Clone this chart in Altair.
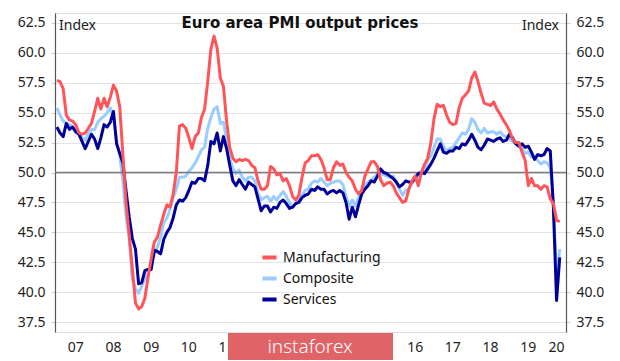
import altair as alt
import pandas as pd

# Monthly data, Jan 2007 .. May 2020
start_year = 2007
manufacturing = [
    57.7, 57.6, 57.0, 54.8, 54.4, 54.3, 54.0, 53.3, 53.2, 53.3, 53.7, 54.1,
    55.1, 56.2, 55.3, 56.2, 55.5, 56.3, 57.3, 56.8, 55.5, 51.5, 47.5, 44.8,
    42.0, 39.1, 38.6, 38.8, 39.5, 41.2, 42.8, 44.2, 44.6, 45.6, 46.5, 47.3,
    47.1, 48.2, 50.0, 53.9, 54.0, 53.7, 52.9, 52.0, 53.0, 53.3, 54.6, 55.3,
    57.6, 60.3, 61.4, 60.4, 57.9, 57.2, 54.3, 52.1, 51.2, 50.9, 51.1, 51.0,
    51.1, 51.0, 50.6, 50.4, 49.3, 48.6, 48.6, 48.9, 50.5, 50.3, 49.8, 49.9,
    49.3, 49.5, 48.9, 48.0, 47.7, 48.1, 49.6, 50.8, 51.0, 51.4, 51.4, 51.5,
    51.1, 50.4, 49.4, 49.4, 50.4, 50.9, 50.6, 50.7, 50.0, 49.6, 49.3, 48.6,
    48.2, 48.5, 49.7, 50.3, 50.9, 50.9, 50.5, 49.4, 48.9, 49.1, 49.2, 48.9,
    48.3, 47.9, 47.5, 47.6, 48.6, 49.3, 49.7, 48.9, 50.0, 50.7, 51.2, 52.5,
    54.5, 55.7, 55.5, 55.6, 54.8, 54.2, 54.0, 54.1, 55.4, 56.2, 56.5, 56.8,
    57.9, 58.4, 57.6, 56.6, 55.8, 55.7, 55.6, 55.9, 55.3, 54.9, 54.4, 54.0,
    53.5, 52.8, 52.5, 52.5, 51.7, 51.0, 48.9, 49.5, 48.9, 48.9, 48.6, 48.9,
    48.8, 47.8, 47.4, 46.0, 45.9,
]
composite = [
    55.4, 54.8, 54.3, 54.1, 54.0, 53.8, 53.5, 53.3, 52.9, 52.7, 53.3, 53.6,
    53.6, 54.2, 54.5, 54.7, 55.0, 55.4, 54.6, 52.6, 51.4, 49.3, 46.3, 44.5,
    41.1, 40.3, 39.9, 40.5, 41.1, 41.6, 42.1, 43.2, 43.8, 44.6, 45.8, 46.2,
    46.9, 47.9, 48.6, 49.6, 49.6, 49.7, 50.1, 50.4, 50.8, 51.3, 51.9, 52.1,
    53.7, 54.6, 55.3, 55.5, 54.1, 54.2, 52.8, 51.2, 50.3, 49.9, 50.2, 49.6,
    49.3, 49.6, 49.6, 49.3, 48.3, 47.7, 47.9, 48.0, 47.6, 48.0, 47.7, 48.1,
    48.4, 48.0, 47.5, 47.1, 47.4, 47.7, 48.1, 48.5, 48.6, 49.1, 49.3, 49.2,
    49.5, 49.2, 48.9, 49.1, 49.2, 49.3, 49.3, 49.0, 48.0, 47.2, 47.7, 47.2,
    47.9, 48.5, 48.9, 49.2, 49.4, 49.6, 49.9, 49.9, 49.8, 49.7, 49.6, 49.7,
    49.2, 48.6, 48.1, 48.5, 48.6, 49.1, 49.4, 49.7, 49.9, 50.3, 51.0, 51.4,
    52.1, 52.8, 52.8, 52.2, 51.8, 52.0, 52.1, 52.5, 52.9, 53.3, 53.2, 53.6,
    54.5, 54.2, 53.6, 53.3, 53.7, 53.3, 53.4, 53.4, 53.2, 53.4, 53.1, 53.0,
    52.8, 52.6, 52.4, 52.2, 52.0, 51.6, 51.7, 51.3, 51.3, 51.0, 50.7, 50.9,
    50.8, 50.4, 47.5, 41.0, 43.6,
]
services = [
    53.8, 53.3, 53.0, 54.1, 53.6, 53.8, 53.4, 53.2, 52.6, 52.0, 52.6, 53.2,
    52.8, 52.0, 52.9, 54.0, 53.8, 54.2, 55.1, 52.4, 51.6, 50.8, 48.5, 46.3,
    44.5, 43.6, 40.7, 40.8, 41.8, 41.9, 41.9, 43.5, 43.4, 43.2, 44.4, 45.0,
    45.4, 46.2, 47.3, 47.7, 47.6, 47.9, 48.5, 49.2, 49.1, 49.5, 49.5, 49.3,
    50.6, 52.6, 52.4, 53.3, 51.8, 53.0, 52.0, 50.6, 49.3, 48.9, 49.4, 49.0,
    48.6, 49.2, 49.0, 48.8, 47.8, 46.8, 47.2, 47.2, 46.7, 47.1, 47.0, 47.5,
    47.7, 47.4, 47.0, 47.1, 47.4, 47.5, 47.9, 48.1, 48.2, 48.6, 48.5, 48.8,
    48.6, 48.6, 48.2, 48.4, 48.5, 48.3, 48.5, 48.3, 47.5, 46.1, 47.1, 46.3,
    47.3, 48.2, 48.6, 48.9, 49.3, 49.2, 49.7, 50.3, 50.0, 49.9, 49.7, 49.5,
    49.2, 48.8, 49.0, 49.3, 49.2, 49.2, 49.6, 49.9, 50.0, 49.9, 50.3, 50.7,
    51.2, 51.8, 52.4, 51.7, 51.6, 51.8, 51.8, 52.1, 52.0, 52.4, 52.3, 52.7,
    53.2, 52.7, 52.1, 51.9, 52.3, 52.8, 52.7, 52.6, 52.8, 52.9, 52.6, 52.7,
    53.2, 52.9, 52.4, 52.2, 52.4, 52.1, 52.2, 51.7, 51.1, 51.5, 51.4, 51.5,
    52.0, 51.8, 47.0, 39.3, 42.9,
]

series_names = ["Manufacturing", "Composite", "Services"]
series_colors = ["#FF5558", "#99CCFF", "#000099"]
y_ticks = [37.5, 40.0, 42.5, 45.0, 47.5, 50.0, 52.5, 55.0, 57.5, 60.0, 62.5]
year_ticks = list(range(2007, 2021))
year_labels = ["07", "08", "09", "10", "11", "12", "13", "14", "15", "16",
               "17", "18", "19", "20"]
title_text = "Euro area PMI output prices"
axis_caption = "Index"
watermark = "instaforex"

X_MIN, X_MAX = 2006.95, 2020.5
Y_MIN, Y_MAX = 36.67, 63.33
W, H = 511, 319
FONT = "Noto Sans"

rows = []
for name, vals in zip(series_names, [manufacturing, composite, services]):
    for i, v in enumerate(vals):
        rows.append({"t": start_year + i / 12.0, "v": v, "series": name})
df = pd.DataFrame(rows)

xscale = alt.Scale(domain=[X_MIN, X_MAX], nice=False, zero=False)
yscale = alt.Scale(domain=[Y_MIN, Y_MAX], nice=False, zero=False)
cscale = alt.Scale(domain=series_names, range=series_colors)

x_axis = alt.Axis(values=year_ticks, labels=False, tickSize=6, grid=False,
                  domainColor="#555555", tickColor="#555555", domainWidth=1.2,
                  title=None)
left_axis = alt.Axis(orient="left", values=y_ticks, format=".1f", grid=True,
                     gridColor="#e4e4e4", gridWidth=1, tickSize=4,
                     tickColor="#cccccc", labelPadding=6, domainColor="#555555",
                     domainWidth=1.2, labelFont=FONT, labelFontSize=14,
                     labelColor="#222222", title=None)
right_axis = alt.Axis(orient="right", values=y_ticks, format=".1f", grid=False,
                      tickSize=4, tickColor="#cccccc", labelPadding=6,
                      domainColor="#555555", domainWidth=1.2, labelFont=FONT,
                      labelFontSize=14, labelColor="#222222", title=None)

legend = alt.Legend(orient="none", legendX=205, legendY=235, title=None,
                    symbolType="stroke", symbolSize=200, symbolStrokeWidth=4,
                    labelFont=FONT, labelFontSize=14, labelColor="#111111",
                    rowPadding=3, labelOffset=4, padding=0)

# 50 line with right axis
ref_line = alt.Chart(pd.DataFrame({"v": [50.0]})).mark_rule(
    color="#7a7a7a", strokeWidth=1.5
).encode(y=alt.Y("v:Q", scale=yscale, axis=right_axis))

def line_layer(name, first=False):
    return alt.Chart(df).transform_filter(
        alt.datum.series == name
    ).mark_line(strokeWidth=3, strokeJoin="round").encode(
        x=alt.X("t:Q", scale=xscale, axis=x_axis if first else None),
        y=alt.Y("v:Q", scale=yscale, axis=left_axis if first else None),
        color=alt.Color("series:N", scale=cscale, legend=legend if first else None),
    )

comp_layer = line_layer("Composite", first=True)
serv_layer = line_layer("Services")
manu_layer = line_layer("Manufacturing")

# year labels centred in each (visible) year
label_pos = [min(y + 0.5, (y + X_MAX) / 2.0) for y in year_ticks]
year_df = pd.DataFrame({"lx": label_pos, "label": year_labels})
year_text = alt.Chart(year_df).mark_text(
    font=FONT, fontSize=14, color="#222222", baseline="middle", align="center"
).encode(
    x=alt.X("lx:Q", scale=xscale, axis=None),
    y=alt.value(H + 16),
    text="label:N",
)

title = alt.Chart(pd.DataFrame({"s": [title_text]})).mark_text(
    font="DejaVu Sans", fontSize=15, fontWeight="bold", color="#111111",
    baseline="middle", align="center"
).encode(x=alt.value(245), y=alt.value(10), text="s:N")

idx_left = alt.Chart(pd.DataFrame({"s": [axis_caption]})).mark_text(
    font=FONT, fontSize=14, color="#222222", baseline="middle", align="left"
).encode(x=alt.value(4), y=alt.value(13), text="s:N")

idx_right = alt.Chart(pd.DataFrame({"s": [axis_caption]})).mark_text(
    font=FONT, fontSize=14, color="#222222", baseline="middle", align="right"
).encode(x=alt.value(504), y=alt.value(13), text="s:N")

wm_rect = alt.Chart(pd.DataFrame({"s": [watermark]})).mark_rect(
    color="#DF6367"
).encode(x=alt.value(173), x2=alt.value(338), y=alt.value(320), y2=alt.value(347))

wm_text = alt.Chart(pd.DataFrame({"s": [watermark]})).mark_text(
    font=FONT, fontSize=19, fontWeight=300, color="#ffffff",
    baseline="middle", align="center"
).encode(x=alt.value(255), y=alt.value(334), text="s:N")

chart = alt.layer(
    comp_layer, ref_line, serv_layer, manu_layer, year_text, title,
    idx_left, idx_right, wm_rect, wm_text
).resolve_axis(y="independent").properties(
    width=W, height=H,
    autosize=alt.AutoSizeParams(type="none"),
    padding={"left": 47, "top": 5, "right": 46, "bottom": 32},
).configure_view(stroke=None).configure(background="white")

chart.save("out.html", embed_options={"renderer": "svg", "actions": False})
